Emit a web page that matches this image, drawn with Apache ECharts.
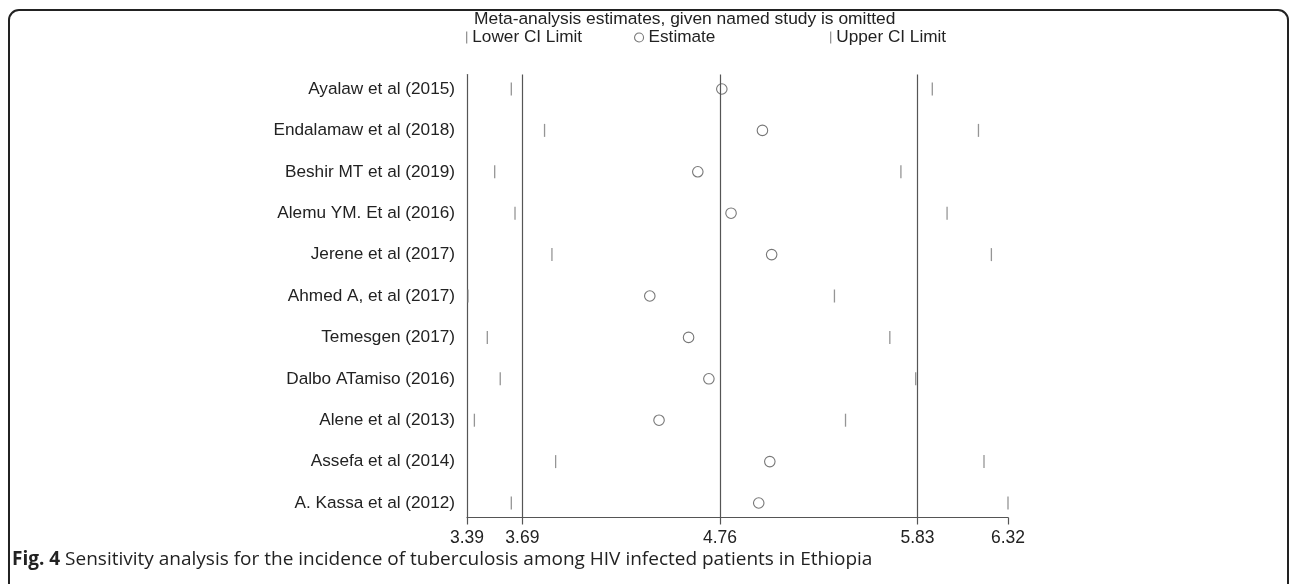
<!DOCTYPE html>
<html>
<head>
<meta charset="utf-8">
<script src="https://cdn.jsdelivr.net/npm/echarts@6/dist/echarts.min.js"></script>
<style>html,body{margin:0;padding:0;background:#fff;}#chart{width:1290px;height:584px;}</style>
</head>
<body>
<div id="chart"></div>
<script>
const studies = [
  'Ayalaw et al (2015)', 'Endalamaw et al (2018)', 'Beshir MT et al (2019)',
  'Alemu YM. Et al (2016)', 'Jerene et al (2017)', 'Ahmed A, et al (2017)',
  'Temesgen (2017)', 'Dalbo ATamiso (2016)', 'Alene et al (2013)',
  'Assefa et al (2014)', 'A. Kassa et al (2012)'
];
const lowerCI   = [3.63, 3.81, 3.54, 3.65, 3.85, 3.395, 3.50, 3.57, 3.43, 3.87, 3.63];
const estimates = [4.77, 4.99, 4.64, 4.82, 5.04, 4.38, 4.59, 4.70, 4.43, 5.03, 4.97];
const upperCI   = [5.91, 6.16, 5.74, 5.99, 6.23, 5.38, 5.68, 5.82, 5.44, 6.19, 6.32];
const xTicks = [3.39, 3.69, 4.76, 5.83, 6.32];
const refLines = [3.69, 4.76, 5.83];
const titleText = 'Meta-analysis estimates, given named study is omitted';
const captionBold = 'Fig. 4';
const captionText = 'Sensitivity analysis for the incidence of tuberculosis among HIV infected patients in Ethiopia';

const chart = echarts.init(document.getElementById('chart'), null, {renderer: 'canvas'});
const font = "'Liberation Sans', Arial, Helvetica, sans-serif";
const capFont = "'Open Sans', 'Noto Sans', sans-serif";
const rowIdx = studies.map((_, i) => i);
const tickStyle = {color: '#7a7a7a'};
const circleStyle = {color: 'rgba(0,0,0,0)', borderColor: '#555', borderWidth: 1.1};

const option = {
  animation: false,
  backgroundColor: '#fff',
  textStyle: {fontFamily: font},
  title: {
    text: titleText, left: 474, top: 11, padding: 0,
    textStyle: {fontSize: 17.4, fontWeight: 'normal', color: '#222', fontFamily: font}
  },
  legend: [
    {data: ['Lower CI Limit'], left: 466, top: 29, padding: 0, icon: 'rect', itemWidth: 1.3, itemHeight: 12,
     textStyle: {fontSize: 17.2, color: '#222', fontFamily: font}, selectedMode: false},
    {data: ['Estimate'], left: 634, top: 29, padding: 0, icon: 'circle', itemWidth: 9, itemHeight: 9,
     itemStyle: circleStyle,
     textStyle: {fontSize: 17.2, color: '#222', fontFamily: font}, selectedMode: false},
    {data: ['Upper CI Limit'], left: 830, top: 29, padding: 0, icon: 'rect', itemWidth: 1.3, itemHeight: 12,
     textStyle: {fontSize: 17.2, color: '#222', fontFamily: font}, selectedMode: false}
  ],
  grid: {left: 467, right: 282, top: 74.5, bottom: 66.5, containLabel: false},
  xAxis: {
    type: 'value', min: xTicks[0], max: xTicks[xTicks.length - 1],
    axisLine: {show: true, onZero: false, lineStyle: {color: '#555', width: 1.2}},
    axisTick: {show: true, customValues: xTicks, length: 7, lineStyle: {color: '#555', width: 1.2}},
    axisLabel: {show: true, customValues: xTicks, formatter: v => v.toFixed(2), fontSize: 17.5, color: '#222', margin: 12, fontFamily: font},
    splitLine: {show: false}
  },
  yAxis: {
    type: 'value', inverse: true, min: -0.35, max: studies.length - 1 + 0.35,
    axisLine: {show: true, onZero: false, lineStyle: {color: '#555', width: 1.2}},
    axisTick: {show: false},
    axisLabel: {show: true, customValues: rowIdx, formatter: v => studies[v] || '', fontSize: 17.2, color: '#222', margin: 12, fontFamily: font},
    splitLine: {show: false}
  },
  series: [
    {
      name: 'Lower CI Limit', type: 'scatter', symbol: 'rect', symbolSize: [1.3, 13],
      itemStyle: tickStyle, data: lowerCI.map((v, i) => [v, i]), z: 3
    },
    {
      name: 'Estimate', type: 'scatter', symbol: 'circle', symbolSize: 10.5,
      itemStyle: circleStyle, data: estimates.map((v, i) => [v, i]), z: 3,
      markLine: {
        silent: true, symbol: 'none', label: {show: false},
        lineStyle: {color: '#555', width: 1.2, type: 'solid'},
        data: refLines.map(v => ({xAxis: v}))
      }
    },
    {
      name: 'Upper CI Limit', type: 'scatter', symbol: 'rect', symbolSize: [1.3, 13],
      itemStyle: tickStyle, data: upperCI.map((v, i) => [v, i]), z: 3
    }
  ],
  graphic: [
    {type: 'rect', shape: {x: 9, y: 10, width: 1279, height: 640, r: 10},
     style: {fill: 'none', stroke: '#222', lineWidth: 2}, silent: true},
    {type: 'text', left: 12, top: 550,
     style: {
       text: '{b|' + captionBold + '} ' + captionText,
       font: "19px " + capFont, fill: '#222',
       rich: {b: {fontWeight: 'bold', fontSize: 19, fontFamily: capFont, fill: '#222'}}
     }}
  ]
};
chart.setOption(option);
</script>
</body>
</html>
